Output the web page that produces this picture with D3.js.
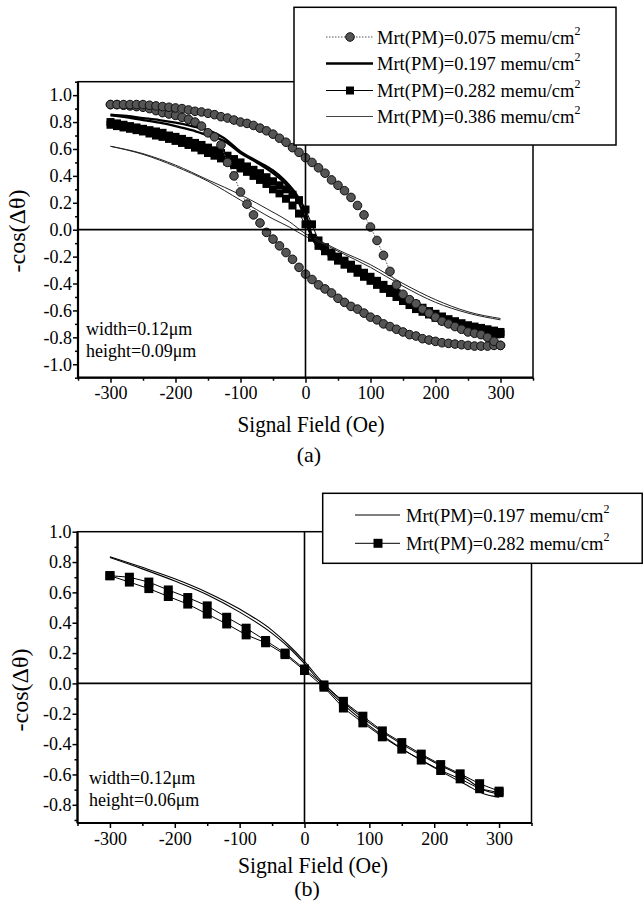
<!DOCTYPE html>
<html>
<head>
<meta charset="utf-8">
<script src="https://cdn.jsdelivr.net/npm/d3@7"></script>
<style>
  html, body { margin: 0; padding: 0; background: #fff; }
  svg, svg text { font-family: "Liberation Serif", "Tinos", "Times New Roman", "DejaVu Serif", serif; }
</style>
</head>
<body>
<svg id="fig" width="643" height="913"></svg>
<script>
// ---------------- Panel (a): width 0.12 um, height 0.09 um ----------------
// Marker series sampled every 10 Oe
const fieldA = [
  -300, -290, -280, -270, -260, -250, -240, -230, -220, -210,
  -200, -190, -180, -170, -160, -150, -140, -130, -120, -110,
  -100, -90, -80, -70, -60, -50, -40, -30, -20, -10,
  0, 10, 20, 30, 40, 50, 60, 70, 80, 90,
  100, 110, 120, 130, 140, 150, 160, 170, 180, 190,
  200, 210, 220, 230, 240, 250, 260, 270, 280, 290,
  300
];
// Mrt(PM)=0.075, increasing-field branch
const mrt075Up = [
  0.93, 0.93, 0.93, 0.93, 0.93, 0.93, 0.925, 0.92, 0.915, 0.91,
  0.905, 0.90, 0.89, 0.88, 0.875, 0.865, 0.855, 0.84, 0.83, 0.815,
  0.80, 0.79, 0.775, 0.755, 0.735, 0.71, 0.68, 0.65, 0.61, 0.575,
  0.535, 0.50, 0.46, 0.42, 0.37, 0.33, 0.29, 0.24, 0.18, 0.11,
  0.02, -0.08, -0.19, -0.31, -0.41, -0.48, -0.52, -0.55, -0.59, -0.62,
  -0.65, -0.68, -0.70, -0.72, -0.74, -0.76, -0.77, -0.78, -0.80, -0.83,
  -0.86
];
// Mrt(PM)=0.075, decreasing-field branch
const mrt075Down = [
  0.93, 0.93, 0.925, 0.92, 0.915, 0.91, 0.90, 0.885, 0.87, 0.86,
  0.85, 0.835, 0.82, 0.80, 0.77, 0.72, 0.69, 0.63, 0.50, 0.40,
  0.28, 0.19, 0.11, 0.05, -0.02, -0.07, -0.12, -0.17, -0.22, -0.28,
  -0.33, -0.37, -0.41, -0.44, -0.47, -0.51, -0.54, -0.57, -0.59, -0.62,
  -0.65, -0.67, -0.70, -0.72, -0.74, -0.76, -0.78, -0.79, -0.81, -0.82,
  -0.83, -0.84, -0.845, -0.85, -0.855, -0.86, -0.865, -0.865, -0.865, -0.86,
  -0.86
];
// Mrt(PM)=0.282, two branches
const mrt282Up = [
  0.80, 0.79, 0.78, 0.77, 0.76, 0.75, 0.74, 0.73, 0.72, 0.70,
  0.69, 0.675, 0.66, 0.645, 0.63, 0.61, 0.59, 0.57, 0.55, 0.525,
  0.50, 0.47, 0.445, 0.42, 0.39, 0.36, 0.33, 0.30, 0.26, 0.22,
  0.15, 0.04, -0.08, -0.13, -0.17, -0.20, -0.23, -0.26, -0.29, -0.32,
  -0.35, -0.38, -0.41, -0.44, -0.47, -0.50, -0.53, -0.555, -0.58, -0.605,
  -0.625, -0.645, -0.665, -0.68, -0.695, -0.71, -0.72, -0.73, -0.74, -0.75,
  -0.76
];
const mrt282Down = [
  0.78, 0.77, 0.76, 0.75, 0.74, 0.73, 0.715, 0.70, 0.69, 0.675,
  0.66, 0.645, 0.63, 0.61, 0.59, 0.57, 0.55, 0.53, 0.505, 0.48,
  0.455, 0.43, 0.40, 0.37, 0.34, 0.30, 0.27, 0.23, 0.18, 0.12,
  0.04, -0.06, -0.12, -0.16, -0.20, -0.23, -0.26, -0.29, -0.32, -0.35,
  -0.38, -0.41, -0.44, -0.47, -0.50, -0.53, -0.56, -0.59, -0.61, -0.63,
  -0.655, -0.675, -0.69, -0.71, -0.725, -0.74, -0.75, -0.76, -0.765, -0.77,
  -0.775
];
// Mrt(PM)=0.197, plain thick lines
const field197A = [-300, -275, -250, -225, -200, -175, -150, -125, -100, -75, -50, -35, -25, -15, -10, -5,
  0, 5, 10, 15, 25, 50, 75, 100, 125, 150, 175, 200, 225, 250, 275, 300];
const mrt197A1 = [0.855, 0.845, 0.83, 0.815, 0.795, 0.77, 0.74, 0.68, 0.58, 0.51, 0.44, 0.38, 0.33, 0.27, 0.23, 0.19,
  0.13, 0.04, -0.05, -0.10, -0.14, -0.20, -0.28, -0.36, -0.44, -0.52, -0.59, -0.65, -0.70, -0.74, -0.77, -0.79];
const mrt197A2 = [0.85, 0.835, 0.815, 0.795, 0.77, 0.74, 0.70, 0.66, 0.57, 0.50, 0.42, 0.36, 0.31, 0.25, 0.20, 0.14,
  0.07, 0.00, -0.06, -0.10, -0.15, -0.22, -0.30, -0.38, -0.46, -0.54, -0.61, -0.67, -0.72, -0.76, -0.785, -0.80];
// Mrt(PM)=0.386, plain thin lines
const field386A = [-300, -250, -200, -150, -100, -50, -25, 0, 25, 50, 100, 150, 200, 250, 300];
const mrt386A1 = [0.62, 0.565, 0.48, 0.37, 0.26, 0.13, 0.06, -0.03, -0.09, -0.15, -0.26, -0.40, -0.52, -0.61, -0.66];
const mrt386A2 = [0.62, 0.56, 0.47, 0.36, 0.22, 0.08, 0.02, -0.05, -0.10, -0.16, -0.28, -0.42, -0.54, -0.62, -0.67];

// ---------------- Panel (b): width 0.12 um, height 0.06 um ----------------
const fieldB = [-300, -270, -240, -210, -180, -150, -120, -90, -60, -30, 0,
  30, 60, 90, 120, 150, 180, 210, 240, 270, 300];
const mrt282B1 = [0.71, 0.70, 0.668, 0.616, 0.566, 0.511, 0.436, 0.364, 0.283, 0.20, 0.095,
  -0.01, -0.118, -0.216, -0.313, -0.39, -0.466, -0.535, -0.596, -0.661, -0.71];
const mrt282B2 = [0.71, 0.668, 0.625, 0.573, 0.523, 0.457, 0.392, 0.32, 0.268, 0.19, 0.085,
  -0.025, -0.162, -0.26, -0.352, -0.433, -0.505, -0.574, -0.629, -0.694, -0.72];
const field197B = [-300, -250, -200, -150, -100, -50, -25, 0, 25, 50, 100, 150, 200, 250, 275, 300];
const mrt197B1 = [0.835, 0.765, 0.69, 0.60, 0.49, 0.35, 0.255, 0.145, 0.02, -0.085, -0.26, -0.40, -0.52, -0.63, -0.70, -0.73];
const mrt197B2 = [0.83, 0.755, 0.675, 0.585, 0.47, 0.33, 0.24, 0.13, 0.005, -0.10, -0.28, -0.43, -0.555, -0.67, -0.725, -0.75];

// Axis ticks
const xMajor = [-300, -200, -100, 0, 100, 200, 300];
const xMinor = [-350, -250, -150, -50, 50, 150, 250, 350];
const yMajorA = [-1.0, -0.8, -0.6, -0.4, -0.2, 0.0, 0.2, 0.4, 0.6, 0.8, 1.0];
const yMinorA = [-1.1, -0.9, -0.7, -0.5, -0.3, -0.1, 0.1, 0.3, 0.5, 0.7, 0.9, 1.1];
const yMajorB = [-0.8, -0.6, -0.4, -0.2, 0.0, 0.2, 0.4, 0.6, 0.8, 1.0];
const yMinorB = [-0.9, -0.7, -0.5, -0.3, -0.1, 0.1, 0.3, 0.5, 0.7, 0.9];

// Legend texts
const legendA = ["Mrt(PM)=0.075 memu/cm", "Mrt(PM)=0.197 memu/cm", "Mrt(PM)=0.282 memu/cm", "Mrt(PM)=0.386 memu/cm"];
const legendB = ["Mrt(PM)=0.197 memu/cm", "Mrt(PM)=0.282 memu/cm"];

const SERIF = "'Liberation Serif', 'Tinos', 'Times New Roman', 'DejaVu Serif', serif";
const svg = d3.select("#fig").attr("font-family", SERIF);

const CIRCLE_FILL = "#555";

function squeeze(sel, width) {
  sel.attr("textLength", width).attr("lengthAdjust", "spacingAndGlyphs");
}

function drawAxes(g, x, y, yMajor, yMinor) {
  const [x0, x1] = x.range();
  const [y0, y1] = y.range(); // y0 bottom, y1 top
  const fmtX = d => String(d);
  const fmtY = d => d.toFixed(1);

  const ax = g.append("g").attr("transform", `translate(0,${y0})`);
  ax.append("g").call(d3.axisBottom(x).tickValues(xMinor).tickSize(3).tickFormat(""));
  ax.append("g").call(d3.axisBottom(x).tickValues(xMajor).tickSize(5).tickPadding(4).tickFormat(fmtX));
  ax.selectAll(".domain").remove();

  const ay = g.append("g").attr("transform", `translate(${x0},0)`);
  ay.append("g").call(d3.axisLeft(y).tickValues(yMinor).tickSize(3).tickFormat(""));
  ay.append("g").call(d3.axisLeft(y).tickValues(yMajor).tickSize(5).tickPadding(1).tickFormat(fmtY));
  ay.selectAll(".domain").remove();

  ax.selectAll("g").attr("font-family", SERIF).attr("font-size", 18);
  ay.selectAll("g").attr("font-family", SERIF).attr("font-size", 18);
  g.selectAll(".tick line").attr("stroke", "#000").attr("stroke-width", 1.5);
  g.selectAll(".tick text").attr("fill", "#000")
    .style("font-family", SERIF).style("font-size", "18px");

  // frame
  g.append("rect")
    .attr("x", x0).attr("y", y1)
    .attr("width", x1 - x0).attr("height", y0 - y1)
    .attr("fill", "none").attr("stroke", "#000").attr("stroke-width", 1.5);
  g.append("line").attr("x1", x0).attr("x2", x0).attr("y1", y1).attr("y2", y0)
    .attr("stroke", "#000").attr("stroke-width", 2.2);
  g.append("line").attr("x1", x0).attr("x2", x1).attr("y1", y0).attr("y2", y0)
    .attr("stroke", "#000").attr("stroke-width", 2.2);

  // zero reference lines
  g.append("line").attr("x1", x(0)).attr("x2", x(0)).attr("y1", y1).attr("y2", y0)
    .attr("stroke", "#000").attr("stroke-width", 1.6);
  g.append("line").attr("x1", x0).attr("x2", x1).attr("y1", y(0)).attr("y2", y(0))
    .attr("stroke", "#000").attr("stroke-width", 1.8);
}

function pts(xs, ys) { return xs.map((v, i) => [v, ys[i]]); }

function plainLine(g, x, y, xs, ys, width, color) {
  const line = d3.line().x(d => x(d[0])).y(d => y(d[1])).curve(d3.curveMonotoneX);
  g.append("path").datum(pts(xs, ys))
    .attr("d", line).attr("fill", "none")
    .attr("stroke", color).attr("stroke-width", width)
    .attr("stroke-linejoin", "round");
}

function circleSeries(g, x, y, xs, ys) {
  const line = d3.line().x(d => x(d[0])).y(d => y(d[1]));
  const data = pts(xs, ys);
  g.append("path").datum(data).attr("d", line).attr("fill", "none")
    .attr("stroke", "#555").attr("stroke-width", 1).attr("stroke-dasharray", "1.5,1.5");
  g.append("g").selectAll("circle").data(data).join("circle")
    .attr("cx", d => x(d[0])).attr("cy", d => y(d[1])).attr("r", 4.3)
    .attr("fill", CIRCLE_FILL).attr("stroke", "#111").attr("stroke-width", 1);
}

function squareSeries(g, x, y, xs, ys, size) {
  const line = d3.line().x(d => x(d[0])).y(d => y(d[1]));
  const data = pts(xs, ys);
  g.append("path").datum(data).attr("d", line).attr("fill", "none")
    .attr("stroke", "#000").attr("stroke-width", 1);
  g.append("g").selectAll("rect").data(data).join("rect")
    .attr("x", d => x(d[0]) - size / 2).attr("y", d => y(d[1]) - size / 2)
    .attr("width", size).attr("height", size).attr("fill", "#000");
}

function legendText(g, x, yBase, label) {
  const t = g.append("text").attr("x", x).attr("y", yBase)
    .attr("font-size", 18.5).attr("fill", "#000");
  t.append("tspan").text(label);
  t.append("tspan").attr("dy", -9).attr("font-size", 12).text("2");
}

// ============ Panel (a) ============
const xA = d3.scaleLinear().domain([-350, 350]).range([78, 533]);
const yA = d3.scaleLinear().domain([-1.1, 1.1]).range([377.7, 81.7]);
const defs = svg.append("defs");
const gA = svg.append("g");

defs.append("clipPath").attr("id", "clipA").append("rect")
  .attr("x", 78).attr("y", 81.7).attr("width", 455).attr("height", 296);
const plotA = gA.append("g").attr("clip-path", "url(#clipA)");

squareSeries(plotA, xA, yA, fieldA, mrt282Down, 8);
squareSeries(plotA, xA, yA, fieldA, mrt282Up, 8);
plainLine(plotA, xA, yA, field386A, mrt386A1, 1, "#222");
plainLine(plotA, xA, yA, field386A, mrt386A2, 1, "#222");
plainLine(plotA, xA, yA, field197A, mrt197A1, 2.3, "#000");
plainLine(plotA, xA, yA, field197A, mrt197A2, 2.3, "#000");
circleSeries(plotA, xA, yA, fieldA, mrt075Down);
circleSeries(plotA, xA, yA, fieldA, mrt075Up);

drawAxes(gA, xA, yA, yMajorA, yMinorA);

gA.append("text").attr("x", 86).attr("y", 335).attr("font-size", 18).text("width=0.12μm");
gA.append("text").attr("x", 86).attr("y", 357).attr("font-size", 18).text("height=0.09μm");

gA.append("text").attr("transform", "translate(25,231) rotate(-90)")
  .attr("text-anchor", "middle").attr("font-size", 24).text("-cos(Δθ)");
gA.append("text").attr("x", 311).attr("y", 431.7).attr("text-anchor", "middle")
  .attr("font-size", 24).text("Signal Field (Oe)").call(squeeze, 147);
gA.append("text").attr("x", 309).attr("y", 462).attr("text-anchor", "middle")
  .attr("font-size", 22).text("(a)");

// legend (a)
const legA = gA.append("g");
legA.append("rect").attr("x", 294).attr("y", 7.3).attr("width", 322).attr("height", 137.7)
  .attr("fill", "#fff").attr("stroke", "#000").attr("stroke-width", 1.5);
const rowA = [37, 63.5, 90.5, 116.5];
const lx0 = 326, lx1 = 373, lmid = 350, ltx = 377;
// 0.075
legA.append("line").attr("x1", lx0).attr("x2", lx1).attr("y1", rowA[0]).attr("y2", rowA[0])
  .attr("stroke", "#555").attr("stroke-width", 1).attr("stroke-dasharray", "1.5,1.5");
legA.append("circle").attr("cx", lmid).attr("cy", rowA[0]).attr("r", 4.3)
  .attr("fill", CIRCLE_FILL).attr("stroke", "#111").attr("stroke-width", 1);
// 0.197
legA.append("line").attr("x1", lx0).attr("x2", lx1).attr("y1", rowA[1]).attr("y2", rowA[1])
  .attr("stroke", "#000").attr("stroke-width", 2.3);
// 0.282
legA.append("line").attr("x1", lx0).attr("x2", lx1).attr("y1", rowA[2]).attr("y2", rowA[2])
  .attr("stroke", "#000").attr("stroke-width", 1);
legA.append("rect").attr("x", lmid - 4).attr("y", rowA[2] - 4).attr("width", 8).attr("height", 8).attr("fill", "#000");
// 0.386
legA.append("line").attr("x1", lx0).attr("x2", lx1).attr("y1", rowA[3]).attr("y2", rowA[3])
  .attr("stroke", "#444").attr("stroke-width", 1);
legendA.forEach((s, i) => legendText(legA, ltx, rowA[i] + 6.5, s));

// ============ Panel (b) ============
const xB = d3.scaleLinear().domain([-350, 350]).range([77.5, 531.5]);
const yB = d3.scaleLinear().domain([-0.92, 1.0]).range([823, 531.7]);
const gB = svg.append("g");
defs.append("clipPath").attr("id", "clipB").append("rect")
  .attr("x", 77.5).attr("y", 531.7).attr("width", 454).attr("height", 291.3);
const plotB = gB.append("g").attr("clip-path", "url(#clipB)");

plainLine(plotB, xB, yB, field197B, mrt197B1, 1.1, "#000");
plainLine(plotB, xB, yB, field197B, mrt197B2, 1.1, "#000");
squareSeries(plotB, xB, yB, fieldB, mrt282B1, 9);
squareSeries(plotB, xB, yB, fieldB, mrt282B2, 9);

drawAxes(gB, xB, yB, yMajorB, yMinorB);

gB.append("text").attr("x", 89).attr("y", 783.5).attr("font-size", 18).text("width=0.12μm");
gB.append("text").attr("x", 89).attr("y", 805.5).attr("font-size", 18).text("height=0.06μm");

gB.append("text").attr("transform", "translate(28,690) rotate(-90)")
  .attr("text-anchor", "middle").attr("font-size", 24).text("-cos(Δθ)");
gB.append("text").attr("x", 313).attr("y", 873).attr("text-anchor", "middle")
  .attr("font-size", 24).text("Signal Field (Oe)").call(squeeze, 150);
gB.append("text").attr("x", 307).attr("y", 896).attr("text-anchor", "middle")
  .attr("font-size", 22).text("(b)");

// legend (b)
const legB = gB.append("g");
legB.append("rect").attr("x", 322.7).attr("y", 493.3).attr("width", 319.5).attr("height", 70)
  .attr("fill", "#fff").attr("stroke", "#000").attr("stroke-width", 1.5);
const rowB = [515, 543.3];
legB.append("line").attr("x1", 355).attr("x2", 400).attr("y1", rowB[0]).attr("y2", rowB[0])
  .attr("stroke", "#000").attr("stroke-width", 1);
legB.append("line").attr("x1", 355).attr("x2", 400).attr("y1", rowB[1]).attr("y2", rowB[1])
  .attr("stroke", "#000").attr("stroke-width", 1);
legB.append("rect").attr("x", 378 - 4.5).attr("y", rowB[1] - 4.5).attr("width", 9).attr("height", 9).attr("fill", "#000");
legendB.forEach((s, i) => legendText(legB, 406, rowB[i] + 6.5, s));
</script>
</body>
</html>
